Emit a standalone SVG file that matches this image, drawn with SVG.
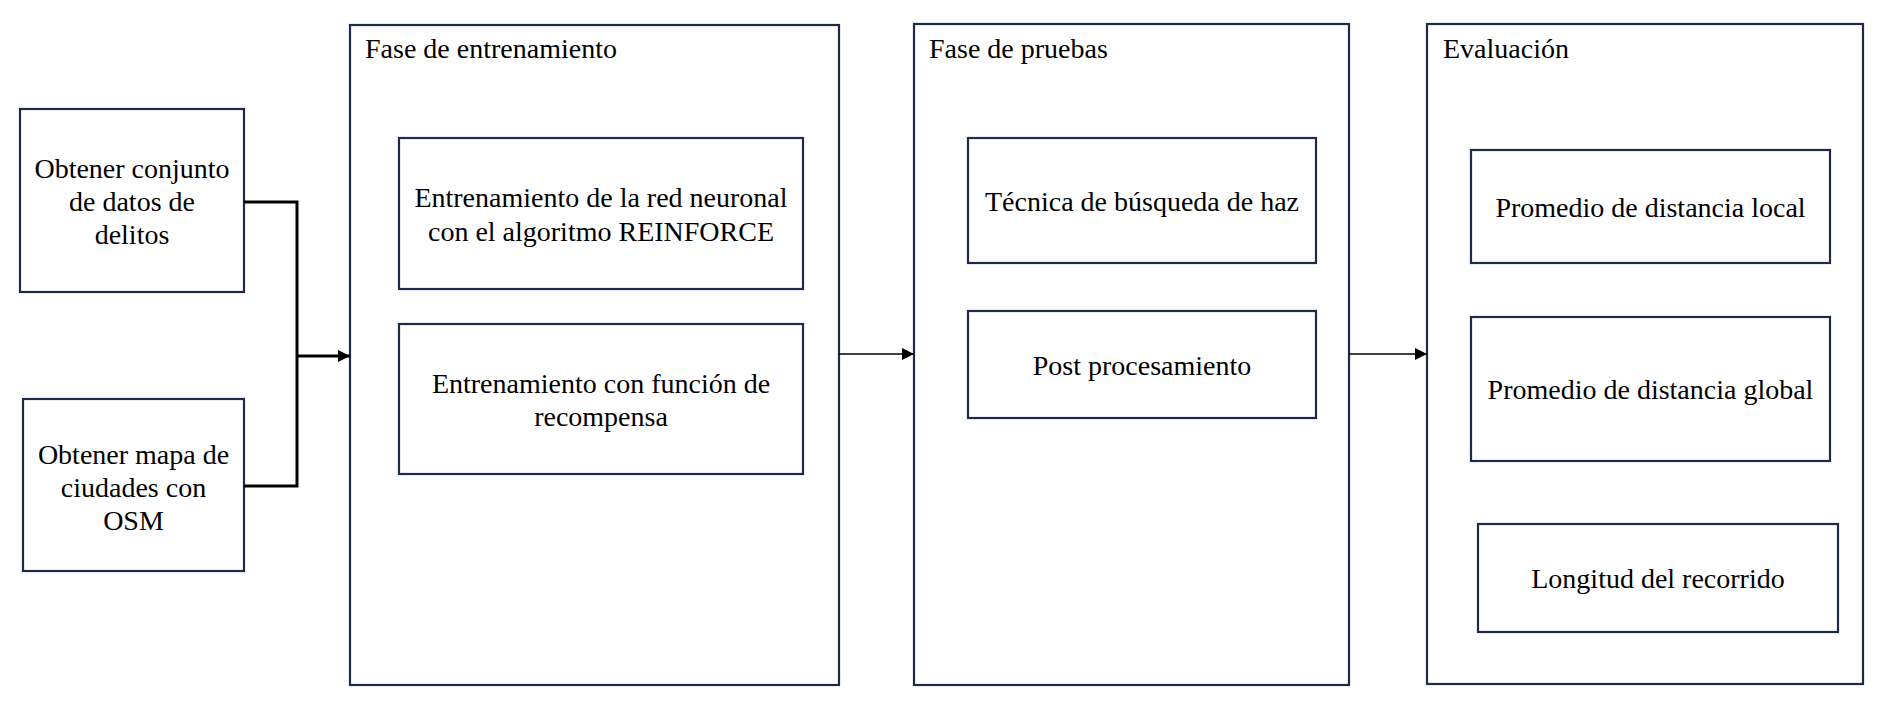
<svg xmlns="http://www.w3.org/2000/svg" width="1885" height="706" viewBox="0 0 1885 706">
<style>
.box{fill:#ffffff;stroke:#1e2b46;stroke-width:2.2}
.t{font-family:"Liberation Serif","Times New Roman",serif;font-size:28px;fill:#000000}
.c{text-anchor:middle}
.thick{fill:none;stroke:#000000;stroke-width:3}
.thin{fill:none;stroke:#000000;stroke-width:1.4}
</style>
<defs>
<marker id="ah" viewBox="0 0 10 10" refX="10" refY="5" markerUnits="userSpaceOnUse" markerWidth="12" markerHeight="12" orient="auto">
<path d="M0,0 L10,5 L0,10 z" fill="#000000"/>
</marker>
</defs>
<rect width="1885" height="706" fill="#ffffff"/>

<g id="frame-entrenamiento">
<rect class="box" x="350" y="25" width="489" height="660"/>
<text class="t" x="365" y="58">Fase de entrenamiento</text>
</g>
<g id="frame-pruebas">
<rect class="box" x="914" y="24" width="435" height="661"/>
<text class="t" x="929" y="58">Fase de pruebas</text>
</g>
<g id="frame-evaluacion">
<rect class="box" x="1427" y="24" width="436" height="660"/>
<text class="t" x="1443" y="58">Evaluación</text>
</g>

<g id="node-datos">
<rect class="box" x="20" y="109" width="224" height="183"/>
<text class="t c" x="132" y="178">Obtener conjunto</text>
<text class="t c" x="132" y="211">de datos de</text>
<text class="t c" x="132" y="244">delitos</text>
</g>
<g id="node-mapa">
<rect class="box" x="23" y="399" width="221" height="172"/>
<text class="t c" x="133.5" y="464">Obtener mapa de</text>
<text class="t c" x="133.5" y="497">ciudades con</text>
<text class="t c" x="133.5" y="530">OSM</text>
</g>

<g id="node-reinforce">
<rect class="box" x="399" y="138" width="404" height="151"/>
<text class="t c" x="601" y="207">Entrenamiento de la red neuronal</text>
<text class="t c" x="601" y="241">con el algoritmo REINFORCE</text>
</g>
<g id="node-recompensa">
<rect class="box" x="399" y="324" width="404" height="150"/>
<text class="t c" x="601" y="393">Entrenamiento con función de</text>
<text class="t c" x="601" y="426">recompensa</text>
</g>

<g id="node-haz">
<rect class="box" x="968" y="138" width="348" height="125"/>
<text class="t c" x="1142" y="211">Técnica de búsqueda de haz</text>
</g>
<g id="node-post">
<rect class="box" x="968" y="311" width="348" height="107"/>
<text class="t c" x="1142" y="375">Post procesamiento</text>
</g>

<g id="node-local">
<rect class="box" x="1471" y="150" width="359" height="113"/>
<text class="t c" x="1650.5" y="217">Promedio de distancia local</text>
</g>
<g id="node-global">
<rect class="box" x="1471" y="317" width="359" height="144"/>
<text class="t c" x="1650.5" y="399">Promedio de distancia global</text>
</g>
<g id="node-longitud">
<rect class="box" x="1478" y="524" width="360" height="108"/>
<text class="t c" x="1658" y="588">Longitud del recorrido</text>
</g>

<g id="connectors">
<polyline class="thick" points="244,202 297,202 297,486 244,486"/>
<line class="thick" x1="297" y1="356" x2="350" y2="356" marker-end="url(#ah)"/>
<line class="thin" x1="839" y1="354" x2="914" y2="354" marker-end="url(#ah)"/>
<line class="thin" x1="1349" y1="354" x2="1427" y2="354" marker-end="url(#ah)"/>
</g>
</svg>
